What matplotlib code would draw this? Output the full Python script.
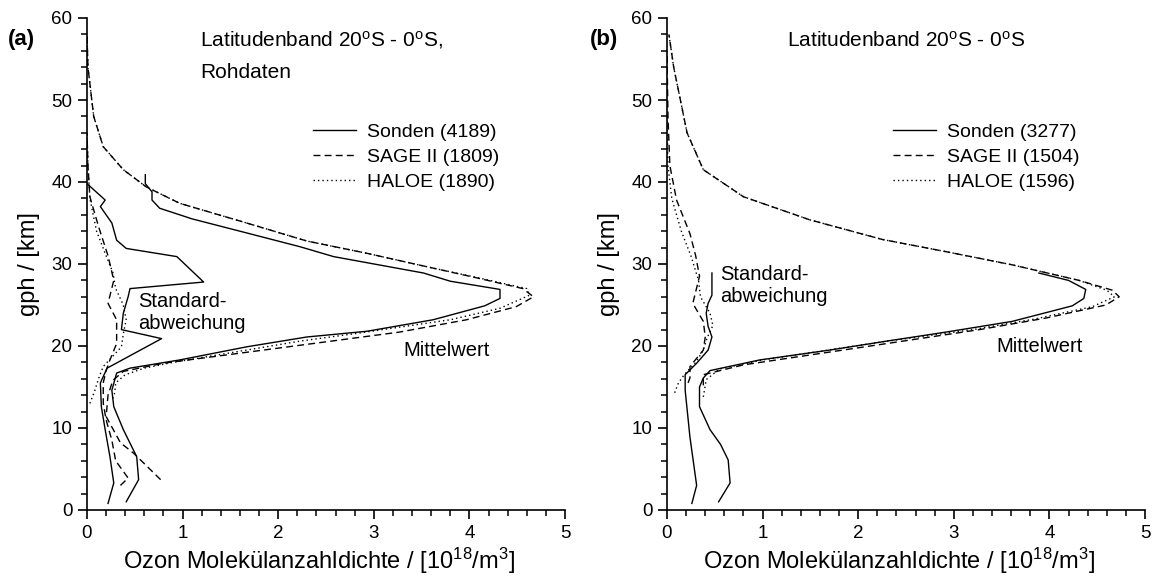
import numpy as np
import matplotlib
matplotlib.use('Agg')
import matplotlib.pyplot as plt
from matplotlib.ticker import MultipleLocator

plt.rcParams['font.family'] = ['Liberation Sans', 'DejaVu Sans']
plt.rcParams['mathtext.fontset'] = 'custom'
plt.rcParams['mathtext.rm'] = 'Liberation Sans'
plt.rcParams['mathtext.it'] = 'Liberation Sans'

# --- panel (a): Rohdaten ---
sonden_mean_a_z = [1, 3.7, 6.5, 9.8, 12.6, 14.6, 16.7, 17.3, 18.3, 19.9, 21.1, 21.8, 23.2, 24.9, 25.8, 26.9,
                   27.9, 28.9, 30.9, 32.1, 34.0, 35.5, 36.8, 37.8, 38.8, 39.8, 40.9]
sonden_mean_a = [0.41, 0.54, 0.52, 0.38, 0.28, 0.26, 0.31, 0.45, 0.97, 1.67, 2.3, 2.93, 3.62, 4.16, 4.32, 4.32,
                 3.80, 3.52, 2.58, 2.23, 1.6, 1.1, 0.76, 0.68, 0.68, 0.61, 0.61]
sonden_std_a_z = [0.8, 3.3, 6.5, 9.8, 12.6, 15.5, 17.3, 20.9, 22.0, 24.0, 26.0, 27.0, 27.8, 30.9, 31.9, 32.9,
                  35.0, 37.0, 37.8, 39.8]
sonden_std_a = [0.22, 0.28, 0.24, 0.19, 0.15, 0.14, 0.21, 0.78, 0.36, 0.38, 0.43, 0.45, 1.22, 0.94, 0.41, 0.31,
                0.26, 0.14, 0.19, 0.0]

sage_mean_a_z = [3.7, 6.9, 8.2, 11.4, 14.0, 15.8, 16.9, 17.9, 20.2, 21.7, 23.2, 24.8, 26.0, 27.0, 28.3, 29.5,
                 31.3, 32.8, 35.0, 37.4, 39.4, 41.5, 44.3, 48.0, 54.0, 58.0]
sage_mean_a = [0.77, 0.49, 0.35, 0.2, 0.22, 0.27, 0.38, 0.80, 2.3, 3.27, 3.97, 4.49, 4.67, 4.56, 4.08, 3.62,
               2.93, 2.3, 1.67, 0.97, 0.62, 0.38, 0.17, 0.07, 0.01, 0.0]
sage_std_a_z = [3.0, 3.9, 6.0, 8.5, 11.0, 13.0, 15.5, 17.0, 18.3, 20.3, 23.2, 25.2, 28.0, 31.0, 34.6, 38.2,
                42.0, 46.0]
sage_std_a = [0.35, 0.43, 0.3, 0.26, 0.2, 0.17, 0.17, 0.2, 0.24, 0.31, 0.31, 0.22, 0.28, 0.22, 0.12, 0.03,
              0.01, 0.0]

haloe_mean_a_z = [13.6, 14.3, 15.5, 16.5, 17.3, 18.0, 20.6, 21.5, 23.2, 24.6, 26.2, 27.0, 28.3, 29.5, 31.3,
                  32.8, 35.0, 37.4, 39.4, 41.5, 44.3, 48.0, 54.0, 58.0]
haloe_mean_a = [0.27, 0.29, 0.3, 0.4, 0.6, 0.9, 2.23, 2.8, 3.8, 4.32, 4.63, 4.6, 4.1, 3.62, 2.93,
                2.3, 1.67, 0.97, 0.62, 0.38, 0.17, 0.07, 0.01, 0.0]
haloe_std_a_z = [13.0, 14.5, 16.0, 17.5, 19.9, 21.5, 23.2, 25.0, 27.0, 29.0, 31.0, 34.0, 38.0, 42.0, 46.0]
haloe_std_a = [0.03, 0.08, 0.12, 0.17, 0.36, 0.38, 0.41, 0.38, 0.3, 0.27, 0.2, 0.1, 0.03, 0.01, 0.0]

# --- panel (b) ---
sonden_mean_b_z = [1.0, 3.3, 6.1, 8.0, 9.8, 12.6, 15.0, 16.1, 17.0, 18.3, 19.5, 20.6, 21.7, 23.0, 24.9, 25.8,
                   26.9, 28.0, 28.9]
sonden_mean_b = [0.54, 0.66, 0.64, 0.56, 0.45, 0.34, 0.34, 0.38, 0.45, 0.97, 1.7, 2.3, 2.92, 3.61, 4.24, 4.36,
                 4.38, 4.2, 3.89]
sonden_std_b_z = [0.8, 3.0, 8.9, 14.6, 16.5, 17.9, 19.5, 21.1, 22.4, 24.0, 25.2, 26.2, 28.9]
sonden_std_b = [0.26, 0.31, 0.24, 0.19, 0.19, 0.31, 0.43, 0.47, 0.43, 0.41, 0.43, 0.47, 0.47]

sage_mean_b_z = [15.2, 16.5, 17.7, 20.3, 22.0, 23.4, 25.0, 26.0, 26.8, 28.0, 29.9, 31.5, 33.0, 35.4, 38.2,
                 41.5, 46.0, 54.0, 58.0]
sage_mean_b = [0.38, 0.38, 0.80, 2.3, 3.27, 3.96, 4.59, 4.73, 4.66, 4.31, 3.61, 2.92, 2.25, 1.49, 0.80,
               0.38, 0.21, 0.07, 0.02]
sage_std_b_z = [15.5, 16.1, 17.5, 19.5, 21.1, 23.0, 25.2, 28.5, 31.0, 33.7, 37.8, 42.0, 48.0, 56.0]
sage_std_b = [0.22, 0.24, 0.24, 0.38, 0.40, 0.38, 0.27, 0.34, 0.30, 0.24, 0.1, 0.03, 0.01, 0.0]

haloe_mean_b_z = [13.8, 15.9, 17.2, 18.3, 20.5, 22.0, 23.3, 24.8, 26.0, 26.8, 28.0, 29.9, 31.5, 33.0, 35.4,
                  38.2, 41.5, 46.0, 54.0, 58.0]
haloe_mean_b = [0.38, 0.41, 0.55, 1.0, 2.25, 3.2, 3.85, 4.45, 4.68, 4.6, 4.31, 3.61, 2.92, 2.25, 1.49,
                0.80, 0.38, 0.21, 0.07, 0.02]
haloe_std_b_z = [14.3, 15.5, 16.5, 18.0, 19.5, 21.0, 22.5, 24.0, 26.0, 28.0, 31.0, 34.0, 38.0, 42.0, 48.0]
haloe_std_b = [0.08, 0.12, 0.18, 0.3, 0.38, 0.42, 0.48, 0.45, 0.35, 0.33, 0.25, 0.15, 0.05, 0.01, 0.0]

labels_a = ['Sonden (4189)', 'SAGE II (1809)', 'HALOE (1890)']
labels_b = ['Sonden (3277)', 'SAGE II (1504)', 'HALOE (1596)']

SOLID = '-'
DASH = (0, (5, 3))
DOT = (0, (1, 2.2))
LW = 1.0


def draw_panel(ax, sm, smz, ss, ssz, gm, gmz, gs, gsz, hm, hmz, hs, hsz, labels):
    l1, = ax.plot(sm, smz, color='k', ls=SOLID, lw=LW)
    ax.plot(ss, ssz, color='k', ls=SOLID, lw=LW)
    l2, = ax.plot(gm, gmz, color='k', ls=DASH, lw=LW)
    ax.plot(gs, gsz, color='k', ls=DASH, lw=LW)
    l3, = ax.plot(hm, hmz, color='k', ls=DOT, lw=LW)
    ax.plot(hs, hsz, color='k', ls=DOT, lw=LW)
    ax.set_xlim(0, 5)
    ax.set_ylim(0, 60)
    ax.xaxis.set_major_locator(MultipleLocator(1))
    ax.xaxis.set_minor_locator(MultipleLocator(0.2))
    ax.yaxis.set_major_locator(MultipleLocator(10))
    ax.yaxis.set_minor_locator(MultipleLocator(2))
    ax.spines['top'].set_visible(False)
    ax.spines['right'].set_visible(False)
    for s in ('left', 'bottom'):
        ax.spines[s].set_linewidth(1.2)
    ax.tick_params(which='major', direction='out', length=6.5, width=1.2, labelsize=13.5, pad=4)
    ax.tick_params(which='minor', direction='out', length=4, width=1.1)
    ax.set_xlabel(r'Ozon Molekülanzahldichte / [10$^{18}$/m$^{3}$]', fontsize=17, labelpad=3)
    ax.xaxis.label.set_x(0.485)
    ax.set_ylabel('gph / [km]', fontsize=17, labelpad=8)
    ax.legend([l1, l2, l3], labels, loc='upper left', bbox_to_anchor=(0.473, 0.786),
              frameon=False, fontsize=14, handlelength=2.2, handletextpad=0.55,
              borderpad=0, borderaxespad=0, labelspacing=0.39)


fig = plt.figure(figsize=(11.57, 5.77), dpi=100)
ax1 = fig.add_axes([87 / 1157, 67 / 577, 478 / 1157, 492 / 577])
ax2 = fig.add_axes([667 / 1157, 67 / 577, 478 / 1157, 492 / 577])

draw_panel(ax1, sonden_mean_a, sonden_mean_a_z, sonden_std_a, sonden_std_a_z,
           sage_mean_a, sage_mean_a_z, sage_std_a, sage_std_a_z,
           haloe_mean_a, haloe_mean_a_z, haloe_std_a, haloe_std_a_z, labels_a)
draw_panel(ax2, sonden_mean_b, sonden_mean_b_z, sonden_std_b, sonden_std_b_z,
           sage_mean_b, sage_mean_b_z, sage_std_b, sage_std_b_z,
           haloe_mean_b, haloe_mean_b_z, haloe_std_b, haloe_std_b_z, labels_b)

ax1.text(0.236, 0.9417, r'Latitudenband 20$^{\rm o}$S - 0$^{\rm o}$S,', transform=ax1.transAxes,
         fontsize=15, va='baseline')
ax1.text(0.236, 0.878, 'Rohdaten', transform=ax1.transAxes, fontsize=15, va='baseline')
ax2.text(0.251, 0.9417, r'Latitudenband 20$^{\rm o}$S - 0$^{\rm o}$S', transform=ax2.transAxes,
         fontsize=15, va='baseline')

ax1.text(0.533, 24.1, 'Standard-\nabweichung', fontsize=14.5, va='center')
ax2.text(0.553, 27.4, 'Standard-\nabweichung', fontsize=14.5, va='center')
ax1.text(3.31, 19.5, 'Mittelwert', fontsize=14.5, va='center')
ax2.text(3.45, 19.9, 'Mittelwert', fontsize=14.5, va='center')

fig.text(8 / 1157, 1 - 39 / 577, '(a)', fontsize=16, fontweight='bold', va='center')
fig.text(590 / 1157, 1 - 39 / 577, '(b)', fontsize=16, fontweight='bold', va='center')

fig.savefig('out.png', dpi=100)
